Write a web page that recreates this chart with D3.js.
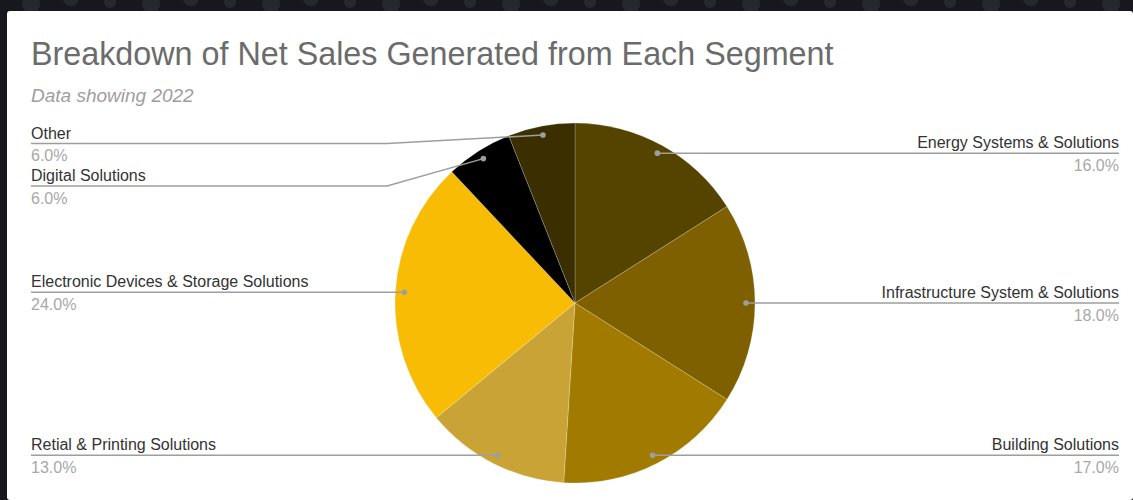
<!DOCTYPE html>
<html>
<head>
<meta charset="utf-8">
<script src="https://cdn.jsdelivr.net/npm/d3@7"></script>
<style>
  html, body { margin: 0; padding: 0; background: #16181d; }
  svg { display: block; font-family: "Liberation Sans", Arial, sans-serif; }
</style>
</head>
<body>
<div id="chart"></div>
<script>
// segments, clockwise from 12 o'clock
var categories = ['Energy Systems & Solutions', 'Infrastructure System & Solutions', 'Building Solutions',
                  'Retial & Printing Solutions', 'Electronic Devices & Storage Solutions', 'Digital Solutions', 'Other'];
var shares = [16, 18, 17, 13, 24, 6, 6];
var sliceColors = ['#554300', '#7f6000', '#a07b00', '#c9a335', '#f9bc05', '#000000', '#3b2e00'];

var title = 'Breakdown of Net Sales Generated from Each Segment';
var subtitle = 'Data showing 2022';

var w = 1133, h = 500;
var cx = 575, cy = 303, radius = 180;
var leftX = 31, rightX = 1119;

var color = d3.scaleOrdinal().domain(categories).range(sliceColors);
var fmt = d3.format('.1f');

var svg = d3.select('#chart')
	.append('svg')
		.attr('width', w)
		.attr('height', h);

// dark page behind the card, with faint dots
var defs = svg.append('defs');
var pat = defs.append('pattern')
	.attr('id', 'dots')
	.attr('width', 120).attr('height', 60)
	.attr('patternUnits', 'userSpaceOnUse');
[[31, 4, 9], [71, -2, 8], [110, 2, 6], [15, 40, 8], [80, 35, 7]].forEach(function(c) {
	pat.append('circle').attr('cx', c[0]).attr('cy', c[1]).attr('r', c[2]).attr('fill', '#25282d');
});
svg.append('rect').attr('width', w).attr('height', h).attr('fill', '#16181d');
svg.append('rect').attr('width', w).attr('height', h).attr('fill', 'url(#dots)');

svg.append('rect')
	.attr('x', 7).attr('y', 11)
	.attr('width', w - 7).attr('height', h - 11)
	.attr('rx', 3)
	.attr('fill', '#ffffff');

svg.append('text')
	.attr('x', leftX).attr('y', 65)
	.attr('font-size', 32.3)
	.attr('fill', '#6b6b6b')
	.text(title);

svg.append('text')
	.attr('x', leftX).attr('y', 102)
	.attr('font-size', 19)
	.attr('font-style', 'italic')
	.attr('fill', '#9e9e9e')
	.text(subtitle);

var pie = d3.pie().sort(null).value(function(d) { return d; });
var arcs = pie(shares);

var arc = d3.arc().innerRadius(0).outerRadius(radius);
var dotArc = d3.arc().innerRadius(radius - 9).outerRadius(radius - 9);

var g = svg.append('g').attr('transform', 'translate(' + cx + ',' + cy + ')');

g.selectAll('path.slice')
	.data(arcs)
	.enter()
	.append('path')
		.attr('class', 'slice')
		.attr('d', arc)
		.attr('fill', function(d, i) { return color(categories[i]); })
		.attr('stroke', '#ffffff')
		.attr('stroke-opacity', 0.35)
		.attr('stroke-width', 0.6);

// label positions, pushed apart on each side
var labels = arcs.map(function(d, i) {
	var c = dotArc.centroid(d);
	var mid = (d.startAngle + d.endAngle) / 2;
	return { i: i, x: cx + c[0], y: cy + c[1], right: mid < Math.PI };
});

['left', 'right'].forEach(function(side) {
	var list = labels.filter(function(l) { return (side == 'right') == l.right; })
		.sort(function(a, b) { return a.y - b.y; });
	var prev = -Infinity;
	list.forEach(function(l) {
		l.ly = Math.max(l.y, prev + 42.5, 143.5);
		prev = l.ly;
	});
});

var lg = svg.append('g');

labels.forEach(function(l) {
	var elbow = l.right ? cx + radius + 8 : cx - radius - 8;
	var end = l.right ? rightX : leftX;
	lg.append('polyline')
		.attr('points', [[l.x, l.y], [elbow, l.ly], [end, l.ly]].map(function(p) { return p.join(','); }).join(' '))
		.attr('fill', 'none')
		.attr('stroke', '#9e9e9e')
		.attr('stroke-width', 1.5);
	lg.append('circle')
		.attr('cx', l.x).attr('cy', l.y)
		.attr('r', 2.8)
		.attr('fill', '#9e9e9e');
	lg.append('text')
		.attr('x', end).attr('y', l.ly - 5)
		.attr('text-anchor', l.right ? 'end' : 'start')
		.attr('font-size', 16)
		.attr('fill', '#333333')
		.text(categories[l.i]);
	lg.append('text')
		.attr('x', end).attr('y', l.ly + 17.5)
		.attr('text-anchor', l.right ? 'end' : 'start')
		.attr('font-size', 16)
		.attr('fill', '#a8a8a8')
		.text(fmt(shares[l.i]) + '%');
});
</script>
</body>
</html>
